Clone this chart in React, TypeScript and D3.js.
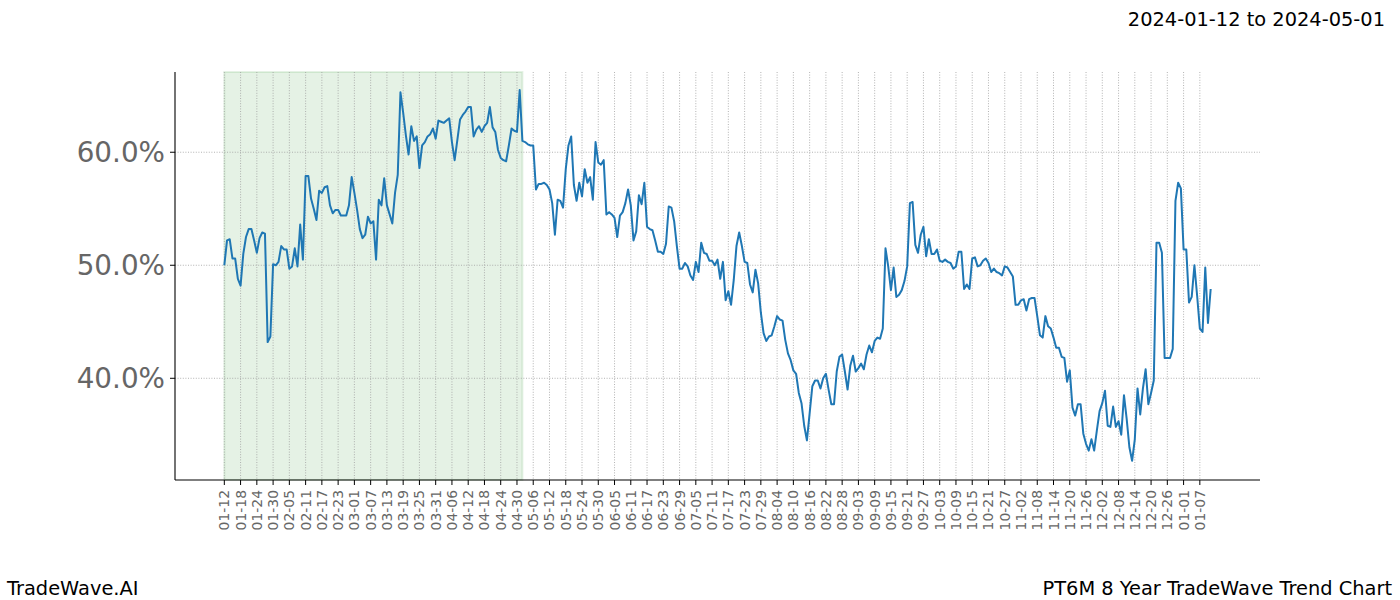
import React from "react";
import * as d3 from "d3";

const TITLE = "2024-01-12 to 2024-05-01";
const FOOT_LEFT = "TradeWave.AI";
const FOOT_RIGHT = "PT6M 8 Year TradeWave Trend Chart";

// x tick labels, one every 6 days starting at day 0
const tickLabels = [
  "01-12","01-18","01-24","01-30","02-05","02-11","02-17","02-23","03-01","03-07",
  "03-13","03-19","03-25","03-31","04-06","04-12","04-18","04-24","04-30","05-06",
  "05-12","05-18","05-24","05-30","06-05","06-11","06-17","06-23","06-29","07-05",
  "07-11","07-17","07-23","07-29","08-04","08-10","08-16","08-22","08-28","09-03",
  "09-09","09-15","09-21","09-27","10-03","10-09","10-15","10-21","10-27","11-02",
  "11-08","11-14","11-20","11-26","12-02","12-08","12-14","12-20","12-26","01-01",
  "01-07",
];
const tickStepDays = 6;

const yTicks = [40, 50, 60];

// shaded window, in days from the first date
const shadeStart = 0;
const shadeEnd = 110;

// daily values (percent), day 0 = 01-12
const values = [
  50.0, 52.2, 52.3, 50.6, 50.6, 48.8, 48.2, 51.0, 52.5, 53.2,
  53.2, 52.2, 51.1, 52.4, 52.9, 52.8, 43.2, 43.7, 50.1, 50.0,
  50.3, 51.7, 51.4, 51.4, 49.7, 49.9, 51.5, 49.9, 53.6, 50.5,
  57.9, 57.9, 55.9, 55.0, 54.0, 56.6, 56.4, 56.9, 57.0, 55.3,
  54.6, 54.9, 54.9, 54.4, 54.4, 54.4, 55.3, 57.8, 56.4, 54.9,
  53.2, 52.4, 52.7, 54.3, 53.7, 53.9, 50.5, 55.8, 55.3, 57.7,
  55.3, 54.5, 53.7, 56.4, 58.0, 65.3, 63.5, 61.5, 59.8, 62.3,
  61.0, 61.4, 58.6, 60.6, 60.9, 61.4, 61.6, 62.1, 61.2, 62.8,
  62.7, 62.6, 62.8, 63.0, 60.9, 59.3, 61.1, 62.9, 63.3, 63.6,
  64.0, 64.0, 61.4, 62.0, 62.3, 61.8, 62.3, 62.6, 64.0, 62.2,
  61.8, 60.2, 59.5, 59.3, 59.2, 60.6, 62.1, 61.9, 61.8, 65.5,
  61.0, 60.9, 60.7, 60.6, 60.6, 56.7, 57.2, 57.2, 57.3, 57.1,
  56.7, 55.5, 52.7, 55.8, 55.7, 55.1, 58.5, 60.6, 61.4, 57.1,
  55.7, 57.3, 56.1, 58.5, 57.3, 57.8, 55.8, 60.9, 59.1, 58.9,
  59.3, 54.5, 54.7, 54.5, 54.2, 52.5, 54.4, 54.7, 55.5, 56.7,
  55.3, 52.2, 53.0, 56.2, 55.4, 57.3, 53.4, 53.2, 53.1, 52.2,
  51.2, 51.2, 51.0, 51.9, 55.2, 55.1, 53.9, 51.7, 49.7, 49.7,
  50.2, 49.9, 49.1, 48.7, 50.3, 49.4, 52.0, 51.1, 51.0, 50.4,
  50.4, 50.0, 50.5, 48.8, 50.3, 46.9, 47.7, 46.5, 48.7, 51.7,
  52.9, 51.7, 50.3, 50.2, 48.3, 47.6, 49.6, 48.4, 45.8, 44.0,
  43.3, 43.7, 43.8, 44.6, 45.5, 45.2, 45.1, 43.4, 42.2, 41.6,
  40.7, 40.4, 38.7, 37.8, 35.8, 34.5, 36.9, 39.3, 39.8, 39.8,
  39.1, 40.0, 40.4, 39.0, 37.7, 37.7, 40.6, 41.9, 42.1, 40.6,
  39.0, 41.1, 42.0, 40.6, 40.9, 41.3, 40.8, 42.1, 42.9, 42.3,
  43.3, 43.6, 43.5, 44.4, 51.5, 49.9, 47.8, 49.8, 47.2, 47.4,
  47.8, 48.6, 49.9, 55.5, 55.6, 51.8, 51.1, 52.7, 53.4, 50.8,
  52.3, 51.0, 51.0, 51.4, 50.4, 50.3, 50.5, 50.3, 50.2, 49.7,
  49.9, 51.2, 51.2, 47.9, 48.3, 47.9, 50.6, 50.7, 49.9, 50.0,
  50.4, 50.6, 50.2, 49.4, 49.7, 49.4, 49.3, 49.1, 49.9, 49.8,
  49.4, 49.0, 46.5, 46.5, 46.9, 47.0, 46.0, 47.0, 47.1, 47.1,
  45.5, 43.8, 43.6, 45.5, 44.6, 44.4, 43.6, 42.7, 42.7, 41.9,
  41.8, 39.7, 40.7, 37.4, 36.7, 37.7, 37.7, 35.1, 34.2, 33.6,
  34.6, 33.6, 35.4, 37.1, 37.8, 38.9, 35.8, 35.7, 37.5, 35.7,
  36.2, 35.0, 38.5, 36.4, 33.9, 32.7, 34.6, 39.1, 36.8, 39.1,
  40.8, 37.7, 38.7, 39.8, 52.0, 52.0, 51.1, 41.8, 41.8, 41.8,
  42.6, 55.7, 57.3, 56.8, 51.4, 51.4, 46.7, 47.2, 50.0, 47.3,
  44.4, 44.1, 49.8, 44.9, 47.9,
];

const W = 1400;
const H = 600;
const L = 175, R = 1260, T = 72, B = 480;
const FONT = "'DejaVu Sans', sans-serif";

export default function App() {
  const n = values.length - 1;
  const pad = n * 0.05;
  const x = d3.scaleLinear().domain([-pad, n + pad]).range([L, R]);
  const y = d3.scaleLinear().domain([31.0, 67.1]).range([B, T]);

  const line = d3
    .line<number>()
    .x((_, i) => x(i))
    .y((d) => y(d));

  const ticks = tickLabels.map((lab, i) => ({ lab, d: i * tickStepDays }));

  return (
    <svg
      width={W}
      height={H}
      style={{ position: "absolute", left: 0, top: 0, background: "#fff" }}
      fontFamily={FONT}
    >
      <rect x={0} y={0} width={W} height={H} fill="#fff" />
      {/* shaded span */}
      <rect
        x={x(shadeStart)}
        y={T}
        width={x(shadeEnd) - x(shadeStart)}
        height={B - T}
        fill="green"
        fillOpacity={0.1}
        stroke="green"
        strokeOpacity={0.1}
        strokeWidth={2}
      />
      {/* grid */}
      {ticks.map((t) => (
        <line
          key={"gx" + t.d}
          x1={x(t.d)}
          x2={x(t.d)}
          y1={T}
          y2={B}
          stroke="#a0a0a0"
          strokeWidth={0.8}
          strokeDasharray="1,1.6"
        />
      ))}
      {yTicks.map((v) => (
        <line
          key={"gy" + v}
          x1={L}
          x2={R}
          y1={y(v)}
          y2={y(v)}
          stroke="#a0a0a0"
          strokeWidth={0.8}
          strokeDasharray="1,1.6"
        />
      ))}
      {/* data line */}
      <path
        d={line(values) || ""}
        fill="none"
        stroke="#1f77b4"
        strokeWidth={2}
        strokeLinejoin="round"
        strokeLinecap="butt"
      />
      {/* spines */}
      <line x1={L} x2={L} y1={T} y2={B} stroke="#000" strokeWidth={1.1} />
      <line x1={L} x2={R} y1={B} y2={B} stroke="#000" strokeWidth={1.1} />
      {/* x ticks */}
      {ticks.map((t) => (
        <g key={"tx" + t.d}>
          <line x1={x(t.d)} x2={x(t.d)} y1={B} y2={B + 5} stroke="#000" strokeWidth={1} />
          <text
            transform={`translate(${x(t.d)},${B + 10}) rotate(-90)`}
            textAnchor="end"
            dominantBaseline="central"
            fontSize={13.9}
            fill="#666"
          >
            {t.lab}
          </text>
        </g>
      ))}
      {/* y ticks */}
      {yTicks.map((v) => (
        <g key={"ty" + v}>
          <line x1={L - 5} x2={L} y1={y(v)} y2={y(v)} stroke="#000" strokeWidth={1} />
          <text
            x={L - 10}
            y={y(v)}
            textAnchor="end"
            dominantBaseline="central"
            fontSize={27.8}
            fill="#666"
          >
            {v.toFixed(1) + "%"}
          </text>
        </g>
      ))}
      {/* title & footer */}
      <text x={1385} y={19} textAnchor="end" fontSize={19.4} fill="#000" dominantBaseline="central">
        {TITLE}
      </text>
      <text x={7} y={588} textAnchor="start" fontSize={19.4} fill="#000" dominantBaseline="central">
        {FOOT_LEFT}
      </text>
      <text x={1392} y={588} textAnchor="end" fontSize={19.4} fill="#000" dominantBaseline="central">
        {FOOT_RIGHT}
      </text>
    </svg>
  );
}
